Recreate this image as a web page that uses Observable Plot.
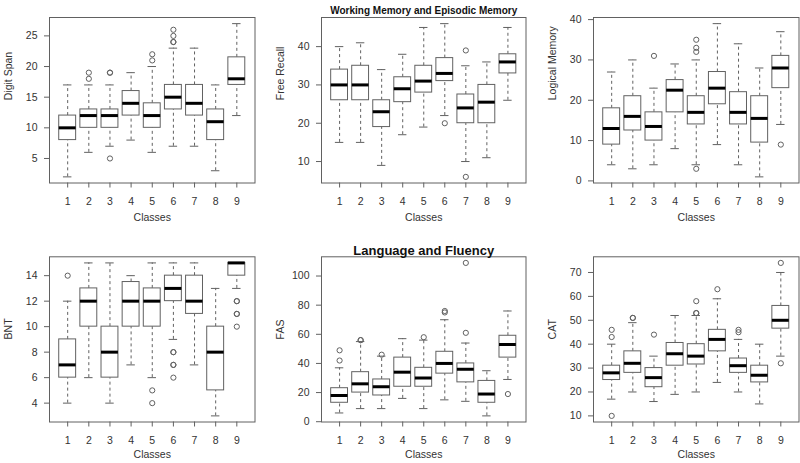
<!DOCTYPE html>
<html><head><meta charset="utf-8">
<script src="https://cdn.jsdelivr.net/npm/d3@7"></script>
<script src="https://cdn.jsdelivr.net/npm/@observablehq/plot@0.6"></script>
<style>
html,body{margin:0;padding:0;background:#fff;}
#chart{position:relative;width:800px;height:463px;overflow:hidden;background:#fff;font-family:"Liberation Sans",Arial,sans-serif;}
#chart > div{position:absolute;}
</style></head><body><div id="chart"></div>
<script>
const classes = [1, 2, 3, 4, 5, 6, 7, 8, 9];

// Box statistics per class: [lower whisker, Q1, median, Q3, upper whisker]
const digitSpan = [[2,8,10,12,17],[6,10,12,13,17],[7,10,12,13,17],[8,12,14,16,19],[6,10,12,14,20],[7,13,15,17,23],[7,12,14,17,23],[3,8,11,13,17],[12,17,18,21.5,27]];
const digitSpanOut = [[],[18,19],[19,19,5],[],[21,22],[24,24,25,26],[],[],[]];
const digitSpanTicks = [5,10,15,20,25];

const freeRecall = [[15,26,30,34,40],[15,26,30,35,41],[9,19,23,26,34],[17,25.5,29,32,38],[19,28,31,35,45],[22,31,33,37,46],[10,20,24,27.5,35],[11,20,25.5,30,36],[26,33,36,38,45]];
const freeRecallOut = [[],[],[],[],[],[20],[39,6],[],[]];
const freeRecallTicks = [10,20,30,40];

const logicalMemory = [[4,9,13,18,27],[3,12.5,16,21,30],[4,10,13.5,17,23],[8,17,22.5,25,29],[4,14,17,21,30],[9,19,23,27,39],[4,14,17,22,34],[1,9.5,15.5,21,28],[14,23,28,31,37]];
const logicalMemoryOut = [[],[],[31],[],[35,33,32,3],[],[],[],[9]];
const logicalMemoryTicks = [0,10,20,30,40];

const bnt = [[4,6,7,9,12],[6,10,12,13,15],[4,6,8,10,15],[7,10,12,13.5,14],[6,10,12,13,15],[9,12,13,14,15],[7,11,12,14,15],[3,5,8,10,13],[13,14,15,15,15]];
const bntOut = [[14],[],[],[],[5,4],[8,8,7,7,6],[],[],[12,12,11,11,10]];
const bntTicks = [4,6,8,10,12,14];

const fas = [[6,13,18,23,37],[9,20,26,34,55],[9,18,24,29,45],[16,24,34,44,57],[9,24,30,37,56],[15,33,40,48,70],[14,27,36,40,54],[4,13,19,28,35],[29,44,53,59,76]];
const fasOut = [[49,42],[56,56],[46],[],[58],[75,76],[109,61],[],[19]];
const fasTicks = [0,20,40,60,80,100];

const cat = [[17,25,28,31,40],[20,28,32,37,49],[16,22,26,30,35],[19,31,36,40.5,52],[20,31.5,35,40,52],[24,37,42,46,59],[20,28,31,34,42],[15,24,27,31,40],[35,46.5,50,56,70]];
const catOut = [[46,43,10],[51,51],[44],[],[58,53,53],[63],[46,45],[],[74,32]];
const catTicks = [10,20,30,40,50,60,70];

const yLabels = ["Digit Span","Free Recall","Logical Memory","BNT","FAS","CAT"];
const titles = ["Working Memory and Episodic Memory","Language and Fluency"];
const xLabel = "Classes";

const panels = [
  {stats: digitSpan, out: digitSpanOut, ticks: digitSpanTicks, label: yLabels[0], col: 0, row: 0},
  {stats: freeRecall, out: freeRecallOut, ticks: freeRecallTicks, label: yLabels[1], col: 1, row: 0, title: titles[0], titleSize: 10},
  {stats: logicalMemory, out: logicalMemoryOut, ticks: logicalMemoryTicks, label: yLabels[2], col: 2, row: 0},
  {stats: bnt, out: bntOut, ticks: bntTicks, label: yLabels[3], col: 0, row: 1},
  {stats: fas, out: fasOut, ticks: fasTicks, label: yLabels[4], col: 1, row: 1, title: titles[1], titleSize: 13},
  {stats: cat, out: catOut, ticks: catTicks, label: yLabels[5], col: 2, row: 1}
];

const cols = [
  {left: 0, width: 265, ml: 49, mr: 10.5},
  {left: 265, width: 267, ml: 56, mr: 6.5},
  {left: 532, width: 268, ml: 61, mr: 1.5}
];
const rows = [
  {top: 0, height: 232, mt: 17, mb: 49.5, xl: 37.5},
  {top: 232, height: 231, mt: 24.3, mb: 41.5, xl: 35.5}
];

const ink = "#616161";
const extend = ([a, b]) => [a - 0.04 * (b - a), b + 0.04 * (b - a)];

const chart = document.getElementById("chart");
for (const p of panels) {
  const C = cols[p.col], R = rows[p.row];
  const boxes = classes.map((c, i) => ({c, lo: p.stats[i][0], q1: p.stats[i][1], med: p.stats[i][2], q3: p.stats[i][3], hi: p.stats[i][4]}));
  const outliers = classes.flatMap((c, i) => p.out[i].map(v => ({c, v})));
  const allValues = boxes.flatMap(d => [d.lo, d.hi]).concat(outliers.map(d => d.v));
  const yDomain = extend(d3.extent(allValues));
  const xDomain = extend([0.5, classes.length + 0.5]);
  const marks = [
    Plot.ruleX(boxes, {x: "c", y1: "q3", y2: "hi", stroke: ink, strokeWidth: 1, strokeDasharray: "3,3"}),
    Plot.ruleX(boxes, {x: "c", y1: "lo", y2: "q1", stroke: ink, strokeWidth: 1, strokeDasharray: "3,3"}),
    Plot.ruleY(boxes, {y: "hi", x1: d => d.c - 0.2, x2: d => d.c + 0.2, stroke: ink, strokeWidth: 1}),
    Plot.ruleY(boxes, {y: "lo", x1: d => d.c - 0.2, x2: d => d.c + 0.2, stroke: ink, strokeWidth: 1}),
    Plot.rect(boxes, {x1: d => d.c - 0.4, x2: d => d.c + 0.4, y1: "q1", y2: "q3", fill: "white", stroke: ink, strokeWidth: 1}),
    Plot.ruleY(boxes, {y: "med", x1: d => d.c - 0.4, x2: d => d.c + 0.4, stroke: "#000", strokeWidth: 3}),
    Plot.dot(outliers, {x: "c", y: "v", r: 2.6, stroke: ink, strokeWidth: 1, fill: "none"}),
    Plot.frame({stroke: ink, strokeWidth: 1}),
    Plot.axisX({ticks: classes, tickSize: 5, tickPadding: 10, label: null, stroke: ink, tickFormat: d => String(d)}),
    Plot.axisY({ticks: p.ticks, tickSize: 5, tickPadding: 7, label: null, stroke: ink}),
    Plot.text([xLabel], {text: d => d, frameAnchor: "bottom", dy: R.xl, fill: "#333"}),
    Plot.text([p.label], {text: d => d, frameAnchor: "left", dx: -41, rotate: -90, fill: "#333"})
  ];
  if (p.title) {
    marks.push(Plot.text([p.title], {text: d => d, frameAnchor: "top", dy: -11, fontWeight: "bold", fontSize: p.titleSize, fill: "#111"}));
  }
  const svg = Plot.plot({
    width: C.width,
    height: R.height,
    marginLeft: C.ml,
    marginRight: C.mr,
    marginTop: R.mt,
    marginBottom: R.mb,
    x: {type: "linear", domain: xDomain},
    y: {type: "linear", domain: yDomain},
    style: {fontFamily: "'Liberation Sans', Arial, sans-serif", fontSize: "10.5px", color: "#333", background: "transparent", overflow: "visible"},
    marks
  });
  const holder = document.createElement("div");
  holder.style.left = C.left + "px";
  holder.style.top = R.top + "px";
  holder.appendChild(svg);
  chart.appendChild(holder);
}
</script>
</body></html>
